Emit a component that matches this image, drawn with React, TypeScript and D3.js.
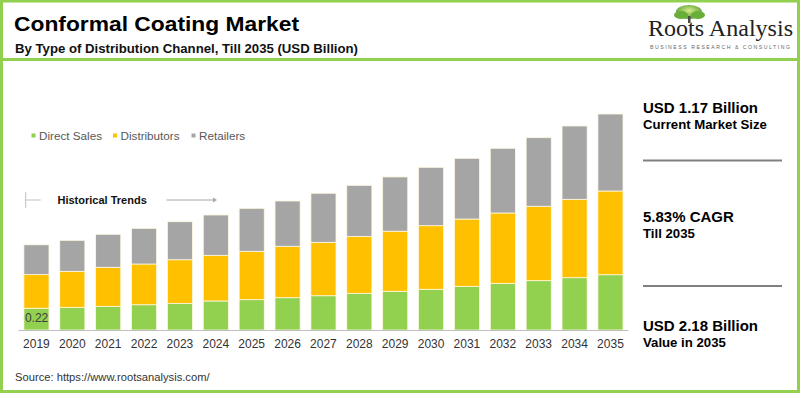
import React from 'react';
import * as d3 from 'd3';

const years = ['2019', '2020', '2021', '2022', '2023', '2024', '2025', '2026', '2027', '2028', '2029', '2030', '2031', '2032', '2033', '2034', '2035'];
const directSales = [0.22, 0.229, 0.239, 0.255, 0.269, 0.293, 0.306, 0.326, 0.346, 0.37, 0.391, 0.411, 0.441, 0.471, 0.498, 0.528, 0.558];
const distributors = [0.34, 0.363, 0.394, 0.411, 0.44, 0.461, 0.488, 0.519, 0.539, 0.575, 0.606, 0.642, 0.679, 0.71, 0.751, 0.791, 0.845];
const retailers = [0.3, 0.313, 0.333, 0.36, 0.384, 0.407, 0.434, 0.457, 0.495, 0.515, 0.548, 0.589, 0.613, 0.653, 0.692, 0.74, 0.777];
const seriesNames = ['Direct Sales', 'Distributors', 'Retailers'];
const seriesColors = ['#92d050', '#ffc000', '#a5a5a5'];

const FONT = 'Liberation Sans, Arial, sans-serif';

const App = () => {
  const rows = years.map((y, i) => ({
    year: y,
    'Direct Sales': directSales[i],
    Distributors: distributors[i],
    Retailers: retailers[i],
  }));
  const stacked = d3.stack<any>().keys(seriesNames)(rows);

  const x = d3.scaleBand().domain(years).range([18.5, 628.4]).paddingInner(0.3).paddingOuter(0.15);
  const y = d3.scaleLinear().domain([0, 2.18]).range([330, 114]);

  return (
    <svg width={800} height={393} style={{ position: 'absolute', left: 0, top: 0 }} fontFamily={FONT}>
      <rect x={0} y={0} width={800} height={393} fill="#fff" />
      {/* frame */}
      <rect x={1.5} y={1} width={797} height={390.5} fill="none" stroke="#92d050" strokeWidth={3} />
      <line x1={3} x2={797} y1={59.5} y2={59.5} stroke="#92d050" strokeWidth={3} />

      {/* title */}
      <text x={14} y={31} fontSize={21} fontWeight="bold" fill="#000" textLength={285} lengthAdjust="spacingAndGlyphs">Conformal Coating Market</text>
      <text x={15} y={53} fontSize={13.2} fontWeight="bold" fill="#111" textLength={343} lengthAdjust="spacingAndGlyphs">By Type of Distribution Channel, Till 2035 (USD Billion)</text>

      {/* logo */}
      <g>
        <defs>
          <radialGradient id="leaf" cx="50%" cy="40%" r="60%">
            <stop offset="0%" stopColor="#d8ec8a" />
            <stop offset="100%" stopColor="#4f9a2c" />
          </radialGradient>
        </defs>
        <ellipse cx={689} cy={12} rx={13} ry={7} fill="url(#leaf)" />
        <ellipse cx={681} cy={15} rx={7} ry={4} fill="#6aae3a" />
        <ellipse cx={698} cy={15} rx={7} ry={4} fill="#6aae3a" />
        <rect x={688} y={16} width={2.5} height={7} fill="#4a4a4a" />
        <text x={648} y={36} fontSize={23} fontFamily="Liberation Serif, Times New Roman, serif" fill="#222" textLength={145} lengthAdjust="spacingAndGlyphs">Roots Analysis</text>
        <text x={650} y={49} fontSize={5.2} letterSpacing={1.5} fill="#666">BUSINESS RESEARCH &amp; CONSULTING</text>
      </g>

      {/* legend */}
      {seriesNames.map((s, i) => {
        const lx = [31.5, 113, 191.5][i];
        return (
          <g key={s}>
            <rect x={lx} y={133.5} width={4} height={4} fill={seriesColors[i]} />
            <text x={lx + 7.5} y={139.5} fontSize={11.7} fill="#595959">{s}</text>
          </g>
        );
      })}

      {/* historical trends */}
      <line x1={25.7} x2={25.7} y1={192} y2={208} stroke="#bfbfbf" strokeWidth={1} />
      <line x1={25.7} x2={40.7} y1={200} y2={200} stroke="#bfbfbf" strokeWidth={1} />
      <text x={57.5} y={203.5} fontSize={11} fontWeight="bold" fill="#111">Historical Trends</text>
      <line x1={166.5} x2={214} y1={200} y2={200} stroke="#a6a6a6" strokeWidth={1} />
      <path d="M 213 197.5 L 217 200 L 213 202.5 Z" fill="#a6a6a6" />

      {/* bars */}
      {stacked.map((layer, si) => (
        <g key={layer.key} fill={seriesColors[si]}>
          {layer.map((d, i) => (
            <rect
              key={years[i]}
              x={x(years[i])}
              y={y(d[1])}
              width={x.bandwidth()}
              height={y(d[0]) - y(d[1])}
              stroke="#fff8e0"
              strokeWidth={0.8}
            />
          ))}
        </g>
      ))}
      <text x={(x(years[0]) as number) + 1} y={321.5} fontSize={12} fill="#404040">{directSales[0].toFixed(2)}</text>

      {/* axis */}
      <line x1={18.5} x2={628.4} y1={330.5} y2={330.5} stroke="#bfbfbf" strokeWidth={1} />
      {years.map(yr => (
        <text key={yr} x={(x(yr) as number) + x.bandwidth() / 2} y={348} fontSize={12} textAnchor="middle" fill="#333">{yr}</text>
      ))}

      {/* right panel */}
      <text x={643} y={112.5} fontSize={15} fontWeight="bold" fill="#000">USD 1.17 Billion</text>
      <text x={643} y={129} fontSize={13.2} fontWeight="bold" fill="#000">Current Market Size</text>
      <line x1={643} x2={782} y1={160.5} y2={160.5} stroke="#808080" strokeWidth={2} />
      <text x={643} y={222} fontSize={15} fontWeight="bold" fill="#000">5.83% CAGR</text>
      <text x={643} y={238} fontSize={13.2} fontWeight="bold" fill="#000">Till 2035</text>
      <line x1={643} x2={782} y1={286} y2={286} stroke="#808080" strokeWidth={2} />
      <text x={643} y={330.5} fontSize={15} fontWeight="bold" fill="#000">USD 2.18 Billion</text>
      <text x={643} y={346.5} fontSize={13.2} fontWeight="bold" fill="#000">Value in 2035</text>

      {/* source */}
      <text x={15} y={381} fontSize={11.2} fill="#333">Source: https://www.rootsanalysis.com/</text>
    </svg>
  );
};

export default App;
